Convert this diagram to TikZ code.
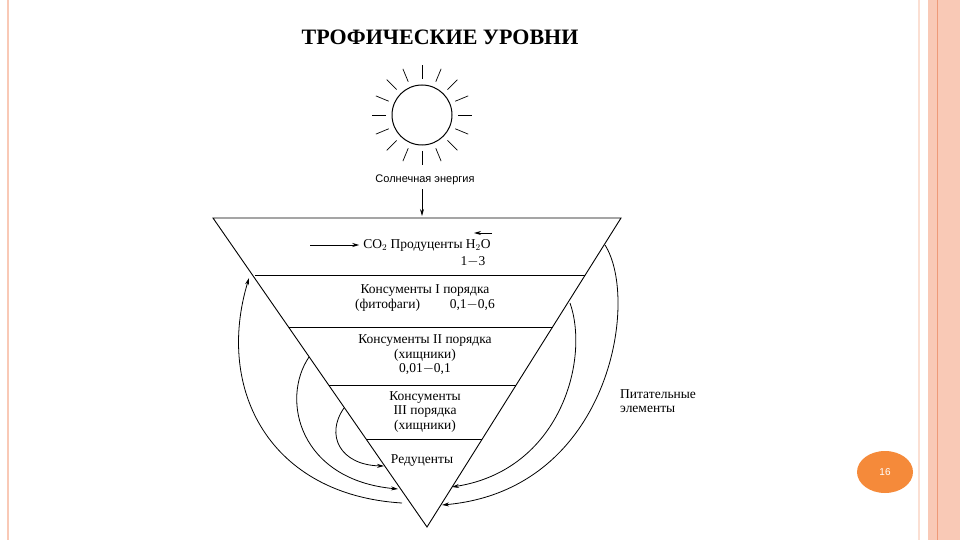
\documentclass[tikz,border=0pt]{standalone}
\usepackage{fontspec}
\setmainfont{Liberation Serif}
\newfontfamily\sansf{Liberation Sans}
\usetikzlibrary{arrows.meta,calc,shapes.geometric}
\definecolor{pinkb}{HTML}{F9C9B6}
\definecolor{pinkd}{HTML}{EE9A78}
\definecolor{orng}{HTML}{F58A3A}
\begin{document}
\begin{tikzpicture}[x=1pt,y=-1pt,
  lbl/.style={font=\fontsize{13.5}{14.5}\selectfont,align=center,inner sep=0pt},
  arr/.style={-{Stealth[length=7pt,width=4pt]},line width=0.8pt},
  ln/.style={line width=0.9pt}]
\useasboundingbox (0,0) rectangle (960,540);
\fill[white] (0,0) rectangle (960,540);
% borders
\fill[pinkb] (928,0) rectangle (960,540);
\draw[pinkd,line width=0.8pt] (937,0) -- (937,540);
\draw[pinkb!60,line width=1.5pt] (919,0) -- (919,540);
\draw[pinkb,line width=1.2pt] (8,0) -- (8,540);
% title
\node[font=\bfseries\fontsize{22}{26}\selectfont] (title) at (440,37) {ТРОФИЧЕСКИЕ УРОВНИ};
% sun
\node[circle,draw,line width=1pt,minimum size=60pt,inner sep=0pt] (sun) at (422,115) {};
\foreach \a in {0,22.5,...,359}{
  \draw[line width=0.7pt] ($(sun.center)+(\a:36)$) -- ($(sun.center)+(\a:50)$);
}
\node[lbl,font=\sansf\fontsize{11}{12}\selectfont] (solar) at (425,180) {Солнечная энергия};
% triangle
\coordinate (TL) at (213,218); \coordinate (TR) at (621,218); \coordinate (B) at (427,527);
\draw[ln] (TL) -- (TR) -- (B) -- cycle;
\draw[ln] (255,275) -- (585,275);
\draw[ln] (289,327) -- (553,327);
\draw[ln] (329,385) -- (516,385);
\draw[ln] (366,439) -- (482,439);
\coordinate (sunend) at (422,216);
\draw[arr] (solar.south) ++(-3,4) -- (sunend);
% texts
\node[lbl] (prod) at (427,245) {CO$_2$ Продуценты H$_2$O};
\coordinate (a1) at (310,245);
\draw[arr] (a1) -- ($(prod.west)+(-4,0)$);
\coordinate (h1) at (492,233); \coordinate (h2) at (474,233);
\draw[arr] (h1) -- (h2);
\node[lbl] (p13) at (473,262) {1$-$3};
\node[lbl] (k1) at (425,298) {Консументы I порядка\\(фитофаги)\hspace{2.2em}0,1$-$0,6};
\node[lbl] (k2) at (425,355) {Консументы II порядка\\(хищники)\\0,01$-$0,1};
\node[lbl] (k3) at (425,412) {Консументы\\III порядка\\(хищники)};
\node[lbl] (red) at (422,461) {Редуценты};
\node[lbl,align=left,anchor=west] (pit) at (620,401) {Питательные\\элементы};
% arcs
\coordinate (L1s) at (402,503); \coordinate (L1e) at (249,278);
\draw[arr] (L1s) .. controls (270,495) and (215,390) .. (L1e);
\coordinate (L2s) at (309,357); \coordinate (L2e) at (398,489);
\draw[arr] (L2s) .. controls (280,400) and (300,480) .. (L2e);
\coordinate (L3s) at (344,408); \coordinate (L3e) at (384,466);
\draw[arr] (L3s) .. controls (325,435) and (340,465) .. (L3e);
\coordinate (R1s) at (605,245); \coordinate (R1e) at (442,505);
\draw[arr] (R1s) .. controls (640,300) and (610,490) .. (R1e);
\coordinate (R2s) at (570,303); \coordinate (R2e) at (452,487);
\draw[arr] (R2s) .. controls (590,360) and (560,470) .. (R2e);
% page number
\node[ellipse,fill=orng,minimum width=56pt,minimum height=42pt,inner sep=0pt,text=white,font=\sansf\fontsize{10}{12}\selectfont] (pg) at (885,472) {16};
\end{tikzpicture}
\end{document}
